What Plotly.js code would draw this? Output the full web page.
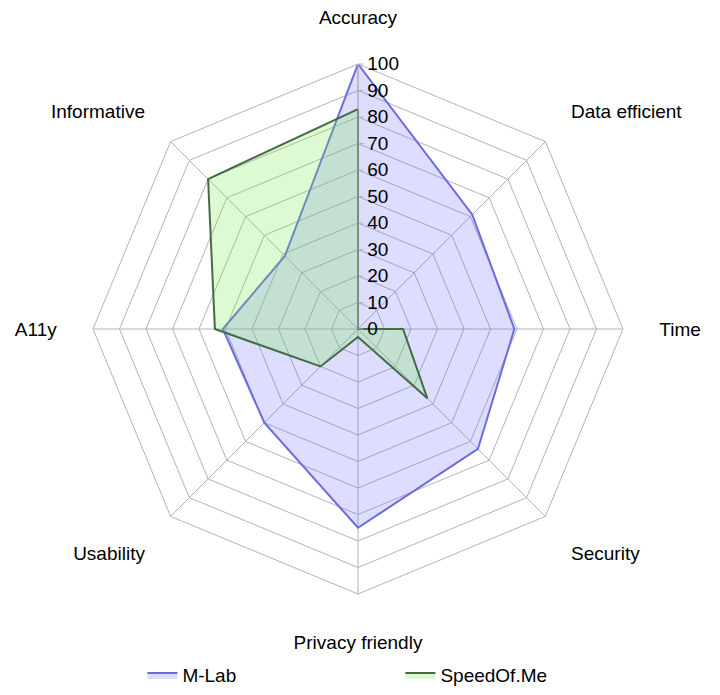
<!DOCTYPE html>
<html>
<head>
<meta charset="utf-8">
<script src="https://cdn.plot.ly/plotly-3.0.1.min.js"></script>
<style>
  body { margin: 0; background: #fff; }
  #plot { width: 720px; height: 695px; }
</style>
</head>
<body>
<div id="plot"></div>
<script>
// radar categories, clockwise from the top
const categories = ['Accuracy', 'Data efficient', 'Time', 'Security',
                    'Privacy friendly', 'Usability', 'A11y', 'Informative'];

// scores (0-100)
const mlabScores = [100, 61, 59, 64, 75, 50, 51, 39];
const speedOfMeScores = [83, 0, 17, 37, 3, 20, 54, 80];

const radialTicks = [0, 10, 20, 30, 40, 50, 60, 70, 80, 90, 100];

// close the polygon by repeating the first point
function closed(arr) {
    return arr.concat([arr[0]]);
}

var traceMLab = {
    type: 'scatterpolar',
    r: closed(mlabScores),
    theta: closed(categories),
    name: 'M-Lab',
    mode: 'lines',
    fill: 'toself',
    fillcolor: 'rgba(110,110,255,0.23)',
    line: { color: '#6b6bdf', width: 2 }
};

var traceSpeed = {
    type: 'scatterpolar',
    r: closed(speedOfMeScores),
    theta: closed(categories),
    name: 'SpeedOf.Me',
    mode: 'lines',
    fill: 'toself',
    fillcolor: 'rgba(120,235,80,0.25)',
    line: { color: '#456b45', width: 2 }
};

var layout = {
    width: 720,
    height: 695,
    margin: { l: 93, r: 97, t: 64, b: 101, autoexpand: false },
    paper_bgcolor: '#fff',
    font: { family: 'Liberation Sans, Arial, sans-serif', size: 19, color: '#000' },
    showlegend: true,
    legend: {
        orientation: 'h',
        x: 0.58, xanchor: 'center',
        y: -0.153, yanchor: 'middle',
        entrywidth: 213,
        bgcolor: 'rgba(0,0,0,0)',
        font: { size: 19 }
    },
    polar: {
        bgcolor: 'rgba(0,0,0,0)',
        gridshape: 'linear',
        domain: { x: [0, 1], y: [0, 1] },
        angularaxis: {
            direction: 'clockwise',
            rotation: 90,
            categoryorder: 'array',
            categoryarray: categories,
            gridcolor: '#b3b3b3',
            linecolor: '#b3b3b3',
            ticks: 'outside',
            ticklen: 32,
            tickcolor: 'rgba(0,0,0,0)',
            tickfont: { size: 19 }
        },
        radialaxis: {
            range: [0, 100],
            angle: 90,
            tickangle: 90,
            side: 'clockwise',
            tickvals: radialTicks,
            ticktext: radialTicks.map(String),
            gridcolor: '#b3b3b3',
            linecolor: '#b3b3b3',
            showline: true,
            ticks: 'outside',
            ticklen: 5,
            tickcolor: '#b3b3b3',
            tickfont: { size: 19 }
        }
    }
};

Plotly.newPlot('plot', [traceMLab, traceSpeed], layout, { displayModeBar: false });
</script>
</body>
</html>
